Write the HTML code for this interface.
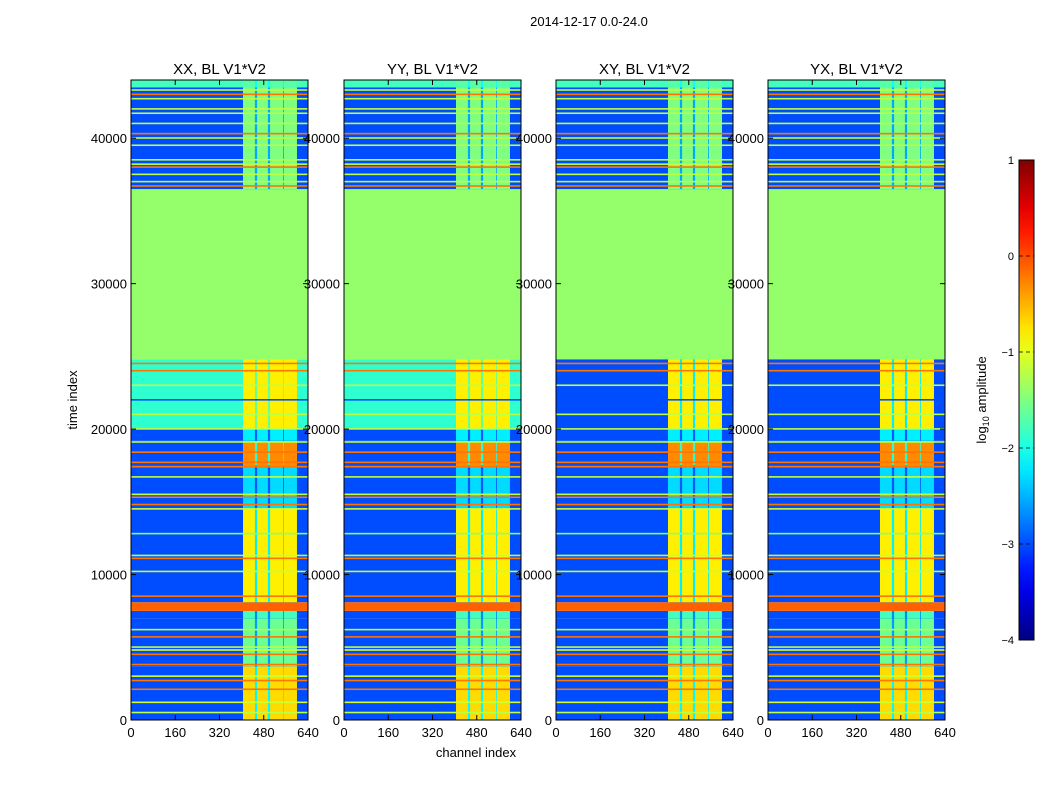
<!DOCTYPE html>
<html><head><meta charset="utf-8">
<style>
body{margin:0;background:#fff;}
svg{display:block;font-family:"Liberation Sans",sans-serif;}
</style></head>
<body>
<svg id="fig" width="1050" height="800" viewBox="0 0 1050 800">
<text x="589" y="26" font-size="13" text-anchor="middle">2014-12-17 0.0-24.0</text>
<text x="476" y="757" font-size="13" text-anchor="middle">channel index</text>
<text transform="translate(77,400) rotate(-90)" font-size="13" text-anchor="middle">time index</text>
</svg>
<script>
// ---- data ----
const panelTitles = ["XX, BL V1*V2","YY, BL V1*V2","XY, BL V1*V2","YX, BL V1*V2"];
const xTicks = [0,160,320,480,640];
const yTicks = [0,10000,20000,30000,40000];
const cbTicks = [1,0,-1,-2,-3,-4];
const stripeStart = [405,456,503,553];
const stripeEnd   = [448,495,550,600];
// time segments: start, end
const segStart = [0,3700,7000,7500,8100,14500,17500,19200,20000,24800,36500,43500];
const segEnd   = [3700,7000,7500,8100,14500,17500,19200,20000,24800,36500,43500,44000];
// background log amplitude for each panel per segment
const segBgXX = [-3.0,-3.0,-3.0,-0.1,-3.0,-3.0,-3.0,-3.0,-1.9,-1.4,-3.0,-1.8];
const segBgYY = [-3.0,-3.0,-3.0,-0.1,-3.0,-3.0,-3.0,-3.0,-1.9,-1.4,-3.0,-1.8];
const segBgXY = [-3.0,-3.0,-3.0,-0.1,-3.0,-3.0,-3.0,-3.0,-3.0,-1.4,-3.0,-1.8];
const segBgYX = [-3.0,-3.0,-3.0,-0.1,-3.0,-3.0,-3.0,-3.0,-3.0,-1.4,-3.0,-1.8];
// value in channel stripes per segment
const segStripe = [-0.7,-1.6,-1.8,-0.1,-0.8,-2.3,-0.3,-2.2,-0.8,-1.4,-1.5,-1.7];
// thin horizontal lines
const lineT = [500,1200,2100,2700,3000,3800,4500,4800,5000,5700,6200,8500,10200,11100,11300,12800,14500,14800,15300,15500,16700,17400,17700,18400,19100,20000,21000,22000,23000,24000,24500,36700,37000,37500,38000,38200,38500,39500,40000,40300,41000,41700,42000,42700,43000,43300];
const lineV = [-1.2,-1.1,-0.2,-0.2,-1.1,-0.2,-0.2,-1.0,-1.2,-0.2,-1.2,-0.2,-1.2,-0.2,-1.2,-1.5,-1.1,-0.2,-0.2,-1.2,-1.2,-0.2,-0.2,-0.2,-1.2,-1.2,-1.2,-3.0,-1.2,-0.2,-0.2,-0.2,-1.2,-1.2,-0.2,-1.2,-1.2,-1.2,-1.2,-0.2,-1.2,-1.2,-1.2,-1.2,-0.2,-1.2];

// ---- scales ----
const panelsX = [131,344,556,768], pw = 177, y0 = 720, yTop = 80, tMax = 44000;
const sx = (c,i) => panelsX[i] + c/640*pw;
const sy = t => y0 - t*(y0-yTop)/tMax;
function jet(v){
  let n=(v+4)/5; n=Math.max(0,Math.min(1,n));
  const f=x=>Math.max(0,Math.min(1,x));
  const r=f(1.5-Math.abs(4*n-3)), g=f(1.5-Math.abs(4*n-2)), b=f(1.5-Math.abs(4*n-1));
  return `rgb(${Math.round(r*255)},${Math.round(g*255)},${Math.round(b*255)})`;
}
const NS="http://www.w3.org/2000/svg", svg=document.getElementById('fig');
function mk(tag,attrs,parent){const e=document.createElementNS(NS,tag);for(const k in attrs)e.setAttribute(k,attrs[k]);(parent||svg).appendChild(e);return e;}
const bgs=[segBgXX,segBgYY,segBgXY,segBgYX];

for(let i=0;i<4;i++){
  const g=mk('g',{});
  
  
  for(let s=0;s<segStart.length;s++){
    const yA=sy(segEnd[s]), yB=sy(segStart[s]);
    const r=mk('rect',{x:panelsX[i],y:yA,width:pw,height:yB-yA,fill:jet(bgs[i][s])},g);
    
    
    if(s!==3&&s!==9){
      const gap=mk('rect',{x:sx(stripeStart[0],i),y:yA,width:sx(stripeEnd[3],i)-sx(stripeStart[0],i),height:yB-yA,fill:jet((bgs[i][s]+segStripe[s])/2-0.3)},g);
      
      
    }
    for(let k=0;k<stripeStart.length;k++){
      const st=mk('rect',{x:sx(stripeStart[k],i),y:yA,width:sx(stripeEnd[k],i)-sx(stripeStart[k],i),height:yB-yA,fill:jet(s===3||s===9?bgs[i][s]:segStripe[s])},g);
      
      
    }
  }
  for(let l=0;l<lineT.length;l++){
    const ln=mk('rect',{x:panelsX[i],y:sy(lineT[l])-1,width:pw,height:1.6,fill:jet(lineV[l])},g);
    
    
  }
  const fr=mk('rect',{x:panelsX[i],y:yTop,width:pw,height:y0-yTop,fill:'none',stroke:'#000','stroke-width':1},g);
  
  
  const tt=mk('text',{x:panelsX[i]+pw/2,y:74,'font-size':15,'text-anchor':'middle'},g);
  tt.textContent=panelTitles[i];
  
  
  xTicks.forEach(c=>{
    mk('line',{x1:sx(c,i),x2:sx(c,i),y1:y0,y2:y0-5,stroke:'#000'},g);
    mk('line',{x1:sx(c,i),x2:sx(c,i),y1:yTop,y2:yTop+5,stroke:'#000'},g);
    const t=mk('text',{x:sx(c,i),y:y0+17,'font-size':13,'text-anchor':'middle'},g);
    t.textContent=c;
    
    
  });
  yTicks.forEach(v=>{
    mk('line',{x1:panelsX[i],x2:panelsX[i]+5,y1:sy(v),y2:sy(v),stroke:'#000'},g);
    mk('line',{x1:panelsX[i]+pw,x2:panelsX[i]+pw-5,y1:sy(v),y2:sy(v),stroke:'#000'},g);
    const t=mk('text',{x:panelsX[i]-4,y:sy(v)+5,'font-size':13,'text-anchor':'end'},g);
    t.textContent=v;
    
    
  });
}
// colorbar
const cb=mk('g',{});


const defs=mk('defs',{},cb), grad=mk('linearGradient',{id:'jetg',x1:0,y1:1,x2:0,y2:0},defs);
for(let k=0;k<=20;k++){mk('stop',{offset:k/20,'stop-color':jet(-4+5*k/20)},grad);}
const cbTop=160, cbBot=640, cbY=v=>cbBot-(v+4)/5*(cbBot-cbTop);
mk('rect',{x:1019,y:cbTop,width:15,height:cbBot-cbTop,fill:'url(#jetg)',stroke:'#000','stroke-width':1},cb);
cbTicks.forEach(v=>{
  mk('line',{x1:1019,x2:1034,y1:cbY(v),y2:cbY(v),stroke:'#000','stroke-dasharray':'4,3','stroke-width':0.8},cb);
  const t=mk('text',{x:1014,y:cbY(v)+4,'font-size':11,'text-anchor':'end'},cb);
  t.textContent=v<0?'\u2212'+(-v):v;
  
  
});
const cl=mk('text',{transform:'translate(986,400) rotate(-90)','font-size':13,'text-anchor':'middle'},cb);
cl.innerHTML='log<tspan font-size="9" dy="3">10</tspan><tspan dy="-3"> amplitude</tspan>';


</script>
</body></html>
